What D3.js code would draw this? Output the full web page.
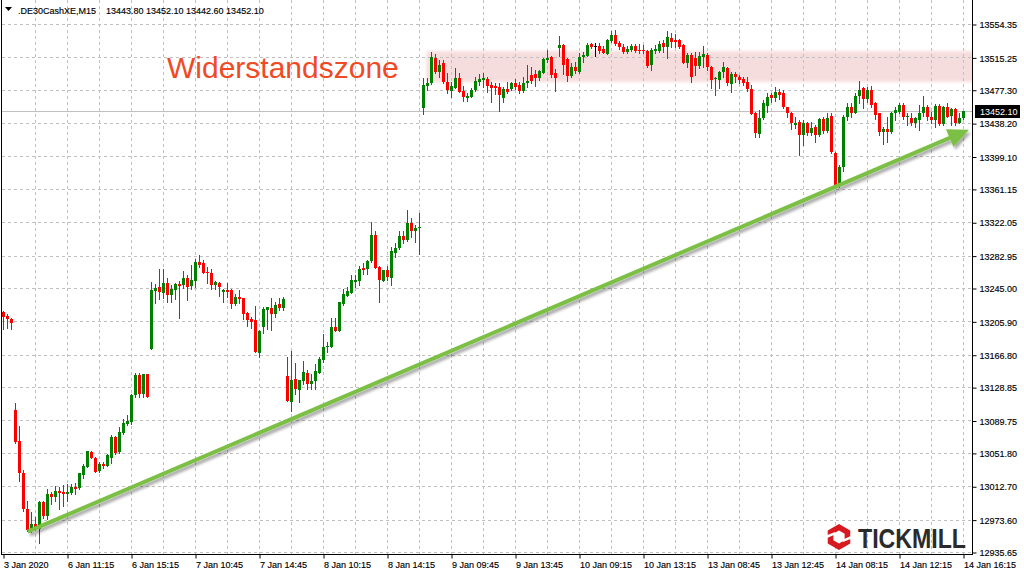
<!DOCTYPE html>
<html><head><meta charset="utf-8">
<script src="https://cdn.jsdelivr.net/npm/d3@7"></script>
<style>body{margin:0;background:#fff}svg{display:block}</style>
</head><body>
<svg width="1024" height="576"></svg>
<script>
// ---------- data ----------
const symbol = ".DE30CashXE,M15";
const headerValues = ["13443.80","13452.10","13442.60","13452.10"];
const timeLabels = ["3 Jan 2020","6 Jan 11:15","6 Jan 15:15","7 Jan 10:45","7 Jan 14:45","8 Jan 10:15","8 Jan 14:15","9 Jan 09:45","9 Jan 13:45","10 Jan 09:15","10 Jan 13:15","13 Jan 08:45","13 Jan 12:45","14 Jan 08:15","14 Jan 12:15","14 Jan 16:15"];
const priceTicks = [13554.35,13515.25,13477.30,13438.20,13399.10,13361.15,13322.05,13282.95,13245.00,13205.90,13166.80,13128.85,13089.75,13051.80,13012.70,12973.60,12935.65];
const lastPrice = 13452.10;
const zoneLow = 13486.4, zoneHigh = 13522.7;
const zoneStartIndex = 106;
const zoneLabel = "Widerstandszone";
const trendFrom = [6.2, 12959.5];
const trendTo = [241.5, 13430.5];

const opens = [13216.9,13212.2,13208.7,13102.1,13065.7,13028.2,12986.1,12960.3,12968.5,12962.6,12994.3,12977.8,13003.6,13000.1,13007.1,13006.0,13003.6,13004.8,13011.8,13010.7,13025.9,13035.3,13052.8,13045.8,13030.6,13038.8,13036.4,13045.8,13070.4,13052.8,13075.1,13085.7,13088.0,13119.6,13143.1,13120.8,13144.2,
13173.5,13241.5,13246.2,13239.2,13250.9,13236.8,13242.7,13249.7,13248.5,13256.7,13247.4,13253.2,13275.5,13274.3,13263.8,13262.6,13248.5,13250.9,13240.3,13242.7,13242.7,13226.3,13234.5,13233.3,13215.7,13208.7,13207.5,13168.9,13199.3,13219.2,13221.6,13214.6,13226.3,13221.6,
13141.9,13111.4,13138.4,13125.5,13136.0,13145.4,13132.5,13136.0,13145.4,13160.7,13175.9,13175.9,13199.3,13194.6,13226.3,13235.6,13239.2,13252.0,13253.2,13268.5,13267.3,13276.7,13307.1,13269.6,13253.2,13266.1,13256.7,13286.0,13291.9,13306.0,13301.3,13321.2,13311.8,13315.3,
13455.9,13481.7,13485.2,13514.5,13498.1,13508.7,13486.4,13475.9,13479.4,13491.1,13475.9,13467.7,13468.8,13477.0,13486.4,13488.8,13489.9,13482.9,13481.7,13480.6,13467.7,13478.2,13478.2,13485.2,13482.9,13475.9,13485.2,13494.6,13495.8,13491.1,13497.0,13512.2,13515.7,13497.0,
13526.3,13529.8,13513.4,13493.4,13504.0,13498.1,13515.7,13516.9,13531.0,13528.6,13528.6,13525.1,13519.2,13534.5,13541.5,13532.1,13527.4,13521.6,13523.9,13528.6,13523.9,13523.9,13522.7,13506.3,13522.7,13522.7,13532.1,13527.4,13538.0,13535.6,13535.6,13529.8,13508.7,13518.1,
13514.5,13505.2,13515.7,13518.1,13504.0,13489.9,13488.8,13498.1,13502.8,13484.1,13495.8,13492.3,13489.9,13486.4,13478.2,13450.1,13425.5,13444.2,13458.3,13471.2,13467.7,13474.7,13473.5,13457.1,13450.1,13436.0,13439.5,13424.3,13438.4,13426.7,13433.7,13424.3,13443.0,13429.0,
13446.6,13403.2,13365.7,13386.8,13445.4,13457.1,13450.1,13470.0,13479.4,13466.5,13477.0,13461.8,13450.1,13427.8,13431.3,13427.8,13450.1,13451.3,13459.5,13445.4,13444.2,13438.4,13441.9,13450.1,13457.1,13445.4,13441.9,13458.3,13437.2,13457.1,13446.6,13454.8,13438.4,13443.8];
const highs = [13218.1,13214.6,13209.9,13110.3,13083.3,13031.8,12995.4,12982.5,12976.7,12995.4,12995.4,13009.5,13006.0,13013.0,13011.8,13014.2,13015.3,13015.3,13016.5,13028.2,13038.8,13054.0,13054.0,13047.0,13041.1,13041.1,13050.5,13072.8,13071.6,13082.1,13091.5,13096.2,13120.8,13145.4,13145.4,13144.2,13144.2,
13252.0,13249.7,13267.3,13267.3,13256.7,13248.5,13250.9,13253.2,13264.9,13260.2,13271.9,13279.0,13283.7,13277.8,13269.6,13267.3,13253.2,13252.0,13243.8,13250.9,13243.8,13238.0,13242.7,13233.3,13216.9,13211.0,13223.9,13195.8,13222.7,13222.7,13233.3,13228.6,13233.3,13234.5,
13164.2,13171.2,13157.1,13137.2,13159.5,13148.9,13144.2,13156.0,13164.2,13191.1,13181.7,13209.9,13209.9,13228.6,13243.8,13246.2,13260.2,13260.2,13270.8,13274.3,13277.8,13322.4,13311.8,13270.8,13266.1,13270.8,13293.1,13297.8,13311.8,13311.8,13336.4,13327.0,13318.8,13332.9,
13491.1,13491.1,13521.6,13519.2,13512.2,13512.2,13497.0,13486.4,13502.8,13497.0,13481.7,13473.5,13479.4,13492.3,13495.8,13497.0,13492.3,13486.4,13485.2,13485.2,13480.6,13486.4,13486.4,13489.9,13486.4,13492.3,13506.3,13504.0,13500.5,13500.5,13514.5,13523.9,13516.9,13501.7,
13540.3,13531.0,13514.5,13508.7,13509.9,13520.4,13521.6,13532.1,13532.1,13532.1,13532.1,13528.6,13536.8,13546.2,13547.4,13534.5,13531.0,13528.6,13531.0,13531.0,13531.0,13529.8,13523.9,13526.3,13529.8,13534.5,13535.6,13546.2,13543.8,13542.7,13536.8,13531.0,13520.4,13520.4,
13521.6,13521.6,13528.6,13520.4,13505.2,13492.3,13499.3,13509.9,13504.0,13498.1,13498.1,13494.6,13492.3,13492.3,13482.9,13451.3,13453.6,13465.3,13473.5,13473.5,13480.6,13478.2,13477.0,13457.1,13451.3,13445.4,13441.9,13441.9,13439.5,13439.5,13436.0,13444.2,13445.4,13450.1,
13450.1,13404.4,13389.1,13447.8,13461.8,13461.8,13473.5,13487.6,13480.6,13480.6,13481.7,13463.0,13450.1,13433.7,13445.4,13451.3,13457.1,13461.8,13461.8,13450.1,13450.1,13445.4,13459.5,13470.0,13459.5,13451.3,13460.7,13460.7,13458.3,13461.8,13456.0,13456.0,13450.1,13452.1];
const lows = [13197.0,13198.2,13197.0,13063.4,13018.9,12983.7,12960.3,12959.1,12961.5,12946.2,12975.5,12974.3,12991.9,12995.4,12986.1,12989.6,12995.4,13003.6,13003.6,13009.5,13022.4,13035.3,13045.8,13029.4,13029.4,13034.1,13036.4,13040.0,13050.5,13051.7,13073.9,13084.5,13085.7,13117.3,13117.3,13117.3,13117.3,
13173.5,13227.4,13232.1,13233.3,13228.6,13228.6,13232.1,13209.9,13245.0,13231.0,13243.8,13246.2,13269.6,13262.6,13250.9,13243.8,13243.8,13235.6,13228.6,13234.5,13221.6,13225.1,13227.4,13208.7,13200.5,13198.2,13170.0,13164.2,13192.3,13197.0,13195.8,13211.0,13219.2,13219.2,
13112.6,13100.9,13120.8,13111.4,13132.5,13126.7,13126.7,13126.7,13145.4,13158.3,13170.0,13175.9,13194.6,13194.6,13225.1,13235.6,13239.2,13246.2,13248.5,13261.4,13261.4,13275.5,13268.5,13228.6,13253.2,13254.4,13248.5,13281.3,13290.7,13297.8,13300.1,13304.8,13298.9,13284.9,
13448.9,13477.0,13484.1,13497.0,13492.3,13485.2,13473.5,13468.8,13479.4,13474.7,13464.2,13464.2,13468.8,13475.9,13482.9,13480.6,13474.7,13463.0,13472.3,13452.4,13463.0,13473.5,13477.0,13478.2,13473.5,13474.7,13480.6,13485.2,13481.7,13488.8,13497.0,13509.9,13492.3,13475.9,
13516.9,13495.8,13487.6,13492.3,13497.0,13497.0,13509.9,13516.9,13526.3,13516.9,13520.4,13520.4,13519.2,13533.3,13529.8,13525.1,13520.4,13520.4,13522.7,13521.6,13520.4,13520.4,13504.0,13500.5,13520.4,13521.6,13521.6,13514.5,13527.4,13527.4,13526.3,13508.7,13504.0,13486.4,
13494.6,13502.8,13504.0,13500.5,13479.4,13471.2,13479.4,13492.3,13482.9,13474.7,13486.4,13485.2,13482.9,13475.9,13448.9,13422.0,13422.0,13443.0,13451.3,13463.0,13464.2,13466.5,13455.9,13445.4,13431.3,13432.5,13400.9,13412.6,13424.3,13424.3,13416.1,13423.1,13426.7,13427.8,
13403.2,13363.4,13363.4,13382.1,13441.9,13445.4,13450.1,13461.8,13455.9,13463.0,13457.1,13443.0,13424.3,13413.8,13416.1,13426.7,13441.9,13450.1,13443.0,13436.0,13436.0,13433.7,13430.2,13446.6,13441.9,13438.4,13433.7,13436.0,13436.0,13445.4,13436.0,13436.0,13438.4,13442.6];
const closes = [13211.0,13208.7,13204.0,13064.6,13028.2,12986.1,12961.5,12968.5,12962.6,12994.3,12977.8,13003.6,13000.1,13007.1,13004.8,13003.6,13006.0,13011.8,13009.5,13028.2,13036.4,13054.0,13045.8,13029.4,13038.8,13036.4,13049.3,13070.4,13051.7,13076.3,13086.8,13089.2,13119.6,13143.1,13120.8,13144.2,13117.3,
13242.7,13245.0,13240.3,13250.9,13236.8,13243.8,13249.7,13247.4,13256.7,13246.2,13254.4,13275.5,13272.0,13262.6,13262.6,13248.5,13252.0,13246.2,13242.7,13240.3,13226.3,13234.5,13232.1,13214.6,13207.5,13205.2,13170.0,13194.6,13220.4,13222.7,13214.6,13225.1,13221.6,13232.1,
13112.6,13137.2,13126.7,13137.2,13146.6,13132.5,13136.0,13147.8,13161.8,13175.9,13177.1,13199.3,13194.6,13228.6,13238.0,13241.5,13254.4,13254.4,13267.3,13266.1,13276.7,13307.1,13268.5,13254.4,13266.1,13257.9,13288.4,13291.9,13306.0,13301.3,13321.2,13311.8,13315.3,13316.5,
13482.9,13485.2,13515.7,13498.1,13506.3,13486.4,13477.0,13481.7,13491.1,13474.7,13468.8,13470.0,13477.0,13487.6,13489.9,13491.1,13481.7,13479.4,13479.4,13471.2,13478.2,13474.7,13485.2,13480.6,13475.9,13485.2,13487.6,13487.6,13491.1,13499.3,13513.4,13514.5,13494.6,13491.1,
13529.8,13506.3,13493.4,13504.0,13499.3,13515.7,13518.1,13529.8,13527.4,13528.6,13522.7,13520.4,13535.6,13541.5,13531.0,13527.4,13521.6,13525.1,13528.6,13522.7,13522.7,13522.7,13505.2,13523.9,13525.1,13531.0,13527.4,13539.1,13533.3,13533.3,13527.4,13508.7,13518.1,13492.3,
13505.2,13516.9,13519.2,13504.0,13488.8,13491.1,13498.1,13504.0,13485.2,13495.8,13492.3,13488.8,13485.2,13478.2,13448.9,13426.7,13444.2,13461.8,13468.8,13467.7,13474.7,13471.2,13457.1,13450.1,13438.4,13438.4,13424.3,13438.4,13426.7,13432.5,13424.3,13443.0,13429.0,13444.2,
13404.4,13365.7,13386.8,13445.4,13457.1,13450.1,13470.0,13477.0,13466.5,13477.0,13459.5,13447.8,13427.8,13431.3,13427.8,13450.1,13453.6,13459.5,13445.4,13446.6,13438.4,13444.2,13450.1,13457.1,13445.4,13441.9,13458.3,13437.2,13457.1,13445.4,13454.8,13438.4,13443.8,13452.1];

// ---------- layout ----------
const svg = d3.select("svg");
const plotL = 2, plotR = 972, plotT = 0, plotB = 554;
const FONT = "'Liberation Sans', Arial, sans-serif";
const FS = 9;
const n = opens.length;
const x = d3.scaleLinear().domain([0, 240]).range([3, 963]);
const y = d3.scaleLinear().domain([12935.65, 13554.35]).range([552, 24]);

const defs = svg.append("defs");
defs.append("clipPath").attr("id","plot").append("rect")
  .attr("x",plotL).attr("y",plotT).attr("width",plotR-plotL).attr("height",plotB-plotT);
const zb = defs.append("filter").attr("id","soft").attr("x","-5%").attr("y","-50%").attr("width","110%").attr("height","200%");
zb.append("feGaussianBlur").attr("stdDeviation",1.6);
const sh = defs.append("filter").attr("id","shadow").attr("x","-10%").attr("y","-50%").attr("width","120%").attr("height","200%");
sh.append("feGaussianBlur").attr("in","SourceAlpha").attr("stdDeviation",1.8).attr("result","b");
sh.append("feOffset").attr("in","b").attr("dx",1.5).attr("dy",3).attr("result","o");
sh.append("feComponentTransfer").attr("in","o").attr("result","oa")
  .append("feFuncA").attr("type","linear").attr("slope",0.35);
const fm = sh.append("feMerge");
fm.append("feMergeNode").attr("in","oa");
fm.append("feMergeNode").attr("in","SourceGraphic");

const plot = svg.append("g").attr("clip-path","url(#plot)");

// resistance zone
plot.append("rect")
  .attr("x", x(zoneStartIndex) - 0.5).attr("y", y(zoneHigh))
  .attr("width", plotR - x(zoneStartIndex) + 4).attr("height", y(zoneLow) - y(zoneHigh))
  .attr("fill", "#f6dada").attr("opacity", 0.9).attr("filter","url(#soft)");

// grid
const grid = plot.append("g").attr("stroke","#c0c0c0").attr("stroke-width",1).attr("stroke-dasharray","3,3");
grid.selectAll("line.h").data(priceTicks).join("line")
  .attr("x1",plotL).attr("x2",plotR)
  .attr("y1",d=>Math.round(y(d))+0.5).attr("y2",d=>Math.round(y(d))+0.5);
const vIdx = d3.range(8, 241, 8);
grid.selectAll("line.v").data(vIdx).join("line")
  .attr("y1",plotT).attr("y2",plotB)
  .attr("x1",d=>Math.round(x(d))+0.5).attr("x2",d=>Math.round(x(d))+0.5);

// last price line
plot.append("line").attr("x1",plotL).attr("x2",plotR)
  .attr("y1",Math.round(y(lastPrice))+0.5).attr("y2",Math.round(y(lastPrice))+0.5)
  .attr("stroke","#c0c0c0").attr("stroke-width",1);

// candles
const candles = d3.range(n).map(i => ({i, o:opens[i], h:highs[i], l:lows[i], c:closes[i]}));
const col = d => d.c > d.o ? "#008000" : (d.c < d.o ? "#ff0000" : "#000000");
const cg = plot.append("g");
cg.selectAll("line").data(candles).join("line")
  .attr("x1",d=>Math.round(x(d.i))+0.5).attr("x2",d=>Math.round(x(d.i))+0.5)
  .attr("y1",d=>Math.round(y(d.h))).attr("y2",d=>Math.round(y(d.l))+1)
  .attr("stroke",col).attr("stroke-width",1);
cg.selectAll("rect").data(candles).join("rect")
  .attr("x",d=>Math.round(x(d.i))-1).attr("width",3)
  .attr("y",d=>Math.round(y(Math.max(d.o,d.c))))
  .attr("height",d=>Math.max(1, Math.round(y(Math.min(d.o,d.c))) - Math.round(y(Math.max(d.o,d.c)))))
  .attr("fill",col);

// trend arrow
const ax1 = x(trendFrom[0]), ay1 = y(trendFrom[1]), ax2 = x(trendTo[0]), ay2 = y(trendTo[1]);
const ang = Math.atan2(ay2-ay1, ax2-ax1);
const headL = 21, headW = 9.5;
const bx = ax2 - headL*Math.cos(ang), by = ay2 - headL*Math.sin(ang);
const ag = plot.append("g").attr("filter","url(#shadow)");
ag.append("line").attr("x1",ax1).attr("y1",ay1).attr("x2",bx+2*Math.cos(ang)).attr("y2",by+2*Math.sin(ang))
  .attr("stroke","#7cbf45").attr("stroke-width",4).attr("stroke-linecap","butt");
ag.append("path")
  .attr("d",`M${ax2},${ay2}L${bx - headW*Math.sin(ang)},${by + headW*Math.cos(ang)}L${bx + headW*Math.sin(ang)},${by - headW*Math.cos(ang)}Z`)
  .attr("fill","#7cbf45");

// zone label
svg.append("text").attr("x",167).attr("y",78).attr("font-family",FONT).attr("font-size",30)
  .attr("fill","#f04a25").text(zoneLabel);

// frame
svg.append("line").attr("x1",1.5).attr("x2",1.5).attr("y1",0).attr("y2",plotB).attr("stroke","#000");
svg.append("line").attr("x1",plotR+0.5).attr("x2",plotR+0.5).attr("y1",0).attr("y2",plotB+1).attr("stroke","#000");
svg.append("line").attr("x1",1).attr("x2",plotR+1).attr("y1",plotB+0.5).attr("y2",plotB+0.5).attr("stroke","#000");

// y axis
const yAxis = d3.axisRight(y).tickValues(priceTicks).tickFormat(d3.format(".2f")).tickSize(4).tickPadding(3);
const yg = svg.append("g").attr("transform",`translate(${plotR+0.5},0.5)`).call(yAxis);
yg.select(".domain").remove();
yg.selectAll("text").attr("font-family",FONT).attr("font-size",FS).attr("fill","#000").attr("dy","0.35em")
  .attr("stroke","#000").attr("stroke-width",0.15);
yg.selectAll("line").attr("stroke","#000");

// x axis
const xTickIdx = timeLabels.map((_,k)=>k*16);
const xAxis = d3.axisBottom(x).tickValues(xTickIdx).tickFormat((d,k)=>timeLabels[k]).tickSize(4).tickPadding(3);
const xg = svg.append("g").attr("transform",`translate(0.5,${plotB+0.5})`).call(xAxis);
xg.select(".domain").remove();
xg.selectAll("text").attr("font-family",FONT).attr("font-size",FS).attr("fill","#000")
  .attr("stroke","#000").attr("stroke-width",0.15)
  .attr("text-anchor","start").attr("x",0).attr("dy","0.75em");
xg.selectAll("line").attr("stroke","#000");

// last price label
const ly = Math.round(y(lastPrice));
svg.append("rect").attr("x",plotR+3).attr("y",ly-6).attr("width",45).attr("height",13).attr("fill","#000");
svg.append("text").attr("x",plotR+8).attr("y",ly+0.5).attr("dy","0.35em").attr("font-family",FONT).attr("font-size",FS)
  .attr("fill","#fff").text(d3.format(".2f")(lastPrice));

// header
svg.append("path").attr("d","M5,7L12,7L8.5,11Z").attr("fill","#000");
svg.append("text").attr("x",18).attr("y",14).attr("font-family",FONT).attr("font-size",FS).attr("fill","#000")
  .attr("stroke","#000").attr("stroke-width",0.15).text(symbol);
svg.append("text").attr("x",106).attr("y",14).attr("font-family",FONT).attr("font-size",FS).attr("fill","#000")
  .attr("stroke","#000").attr("stroke-width",0.15).text(headerValues.join(" "));

// logo
const lg = svg.append("g").attr("transform","translate(839,537)");
const hex = d3.range(6).map(k => { const a = Math.PI/6 + k*Math.PI/3; return [13*Math.cos(a), 13*Math.sin(a)]; });
lg.append("path").attr("d","M"+hex.map(p=>p.join(",")).join("L")+"Z").attr("fill","#d71920");
const hex2 = d3.range(6).map(k => { const a = Math.PI/6 + k*Math.PI/3; return [6.5*Math.cos(a), 6.5*Math.sin(a)]; });
lg.append("path").attr("d","M"+hex2.map(p=>p.join(",")).join("L")+"Z").attr("fill","#fff");
lg.append("path").attr("d","M-14,-1L-4,-5L-3,-3L-14,2Z").attr("fill","#fff");
lg.append("path").attr("d","M14,1L4,5L3,3L14,-2Z").attr("fill","#fff");
svg.append("text").attr("x",858).attr("y",548).attr("font-family",FONT).attr("font-weight","bold")
  .attr("font-size",27).attr("fill","#2b2b2b").attr("textLength",108).attr("lengthAdjust","spacingAndGlyphs").text("TICKMILL");
</script>
</body></html>
